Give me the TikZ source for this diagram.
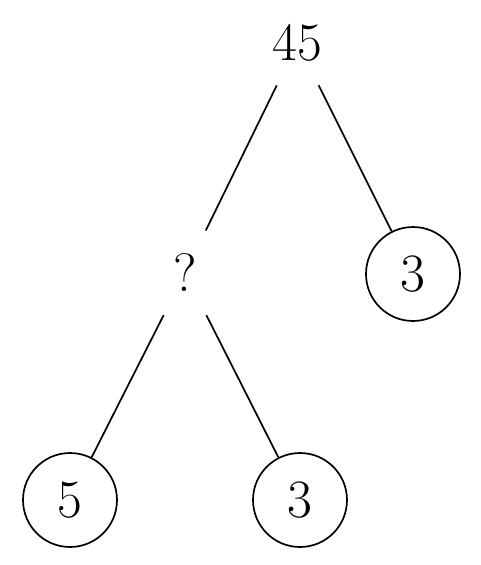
\documentclass[tikz,border=0pt]{standalone}
\begin{document}
\begin{tikzpicture}[x=1pt,y=-1pt,
  tn/.style={circle,minimum size=94pt,inner sep=0pt,font=\fontsize{54}{60}\selectfont},
  leaf/.style={tn,draw,line width=1.7pt},
  edge/.style={line width=1.7pt}]
\useasboundingbox (0,0) rectangle (480,565);
\node[tn] (root) at (297.5,43) {45};
\node[tn] (q) at (185,273) {?};
\node[leaf] (r3) at (413,274) {3};
\node[leaf] (l5) at (70,500) {5};
\node[leaf] (l3) at (300,500) {3};
\draw[edge] (root) -- (q);
\draw[edge] (root) -- (r3);
\draw[edge] (q) -- (l5);
\draw[edge] (q) -- (l3);
\end{tikzpicture}
\end{document}
